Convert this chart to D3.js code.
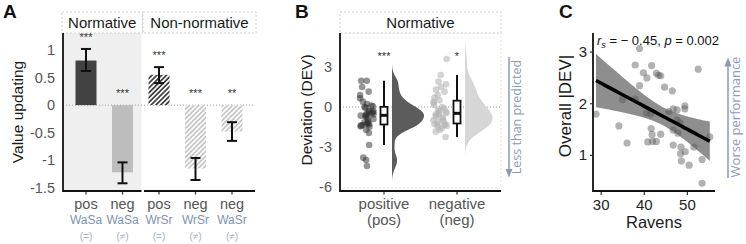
<!DOCTYPE html>
<html>
<head>
<meta charset="utf-8">
<script src="https://cdn.jsdelivr.net/npm/d3@7"></script>
<style>
body { margin: 0; background: #fff; }
svg { display: block; font-family: "Liberation Sans", Arial, sans-serif; }
</style>
</head>
<body>
<svg id="fig" width="746" height="244"></svg>
<script>
// ---- panel A data
var signA   = ["pos", "neg", "pos", "neg", "neg"];
var codeA   = ["WaSa", "WaSa", "WrSr", "WrSr", "WaSr"];
var eqA     = ["(=)", "(\u2260)", "(=)", "(\u2260)", "(\u2260)"];
var groupA  = ["Normative", "Normative", "Non-normative", "Non-normative", "Non-normative"];
var meanA   = [0.81, -1.22, 0.55, -1.15, -0.48];
var loA     = [0.62, -1.42, 0.40, -1.36, -0.65];
var hiA     = [1.02, -1.04, 0.69, -0.96, -0.31];
var starsA  = ["***", "***", "***", "***", "**"];
var ticksA  = [1, 0.5, 0, -0.5, -1, -1.5];

// ---- panel B data
var groupsB = ["positive", "negative"];
var shortB  = ["(pos)", "(neg)"];
var starsB  = ["***", "*"];
var devPos  = [1.97, 1.97, 1.5, 1.15, 0.9, 0.65, 0.4, 0.22, 0.1, 0.05,
               0.0, -0.05, -0.3, -0.3, -0.35, -0.4, -0.45, -0.5, -0.55, -0.6,
               -0.65, -0.7, -0.75, -0.85, -0.9, -1.1, -1.15, -1.2, -1.25, -1.3,
               -1.35, -1.4, -1.45, -1.5, -1.7, -1.95, -2.85, -3.8, -3.97, -4.43];
var devNeg  = [3.6, 2.4, 1.9, 1.7, 1.5, 1.3, 1.15, 0.9, 0.7, 0.5,
               0.4, 0.3, 0.15, 0.0, -0.1, -0.2, -0.3, -0.35, -0.45, -0.5,
               -0.55, -0.6, -0.7, -0.8, -0.9, -1.0, -1.05, -1.1, -1.28, -1.3,
               -1.3, -1.35, -1.4, -1.5, -1.6, -1.7, -1.85, -2.25];
var ticksB  = [3, 0, -3, -6];

// ---- panel C data
var ravens = [38.9, 37.9, 41.7, 39.8, 40.6, 42.8, 43.3, 43.8, 38.9, 44.7, 46.5, 52.5,
              34.9, 37.9, 28.8, 34.1, 36.0, 40.5, 41.5, 41.6, 41.8, 43.8, 40.8, 41.9,
              42.8, 45.7, 46.7, 47.6, 49.4, 49.4, 47.6, 48.3, 46.7, 46.7, 47.8, 48.5,
              49.5, 48.4, 48.6, 50.4, 51.5, 53.4, 53.4, 55.2];
var absDev = [3.07, 2.75, 2.74, 2.60, 2.50, 2.59, 2.55, 2.54, 2.35, 2.32, 2.25, 2.67,
              2.08, 2.09, 1.80, 1.57, 1.24, 1.82, 1.80, 1.52, 1.40, 1.41, 1.26, 1.27,
              1.27, 1.85, 1.90, 1.88, 1.96, 1.90, 1.68, 1.63, 1.49, 1.20, 1.43, 1.16,
              1.07, 1.03, 0.89, 0.81, 1.16, 0.92, 0.46, 1.36];
var ticksCx = [30, 40, 50];
var ticksCy = [1, 2, 3];

var svg = d3.select("#fig");
var axisCol = "#111", tickCol = "#555", noteCol = "#8a9bb6";

var defs = svg.append("defs");
[["hatchDark", "#3a3a3a"], ["hatchLight", "#c4c4c4"]].forEach(function(p) {
    var pat = defs.append("pattern").attr("id", p[0])
        .attr("patternUnits", "userSpaceOnUse").attr("width", 3.4).attr("height", 6)
        .attr("patternTransform", "rotate(45)");
    pat.append("rect").attr("width", 3.4).attr("height", 6).attr("fill", "#fff");
    pat.append("line").attr("x1", 0.9).attr("y1", 0).attr("x2", 0.9).attr("y2", 6)
        .attr("stroke", p[1]).attr("stroke-width", 1.7);
});
defs.append("marker").attr("id", "arr").attr("viewBox", "0 0 10 10")
    .attr("refX", 5).attr("refY", 5).attr("markerWidth", 6).attr("markerHeight", 8)
    .attr("orient", "auto-start-reverse")
    .append("path").attr("d", "M0,1 L10,5 L0,9 Z").attr("fill", noteCol);

function letter(t, x) {
    svg.append("text").attr("x", x).attr("y", 18).attr("font-size", 19)
        .attr("font-weight", "bold").attr("fill", "#111").text(t);
}
function strip(t, x0, x1) {
    svg.append("rect").attr("x", x0).attr("y", 12).attr("width", x1 - x0).attr("height", 21)
        .attr("fill", "#fff").attr("stroke", "#cfcfcf").attr("stroke-dasharray", "2,2");
    svg.append("text").attr("x", (x0 + x1) / 2).attr("y", 28).attr("text-anchor", "middle")
        .attr("font-size", 15).attr("fill", "#1a1a1a").text(t);
}
function ytitle(t, x, y, fs) {
    svg.append("text").attr("transform", "translate(" + x + "," + y + ") rotate(-90)")
        .attr("text-anchor", "middle").attr("font-size", fs).attr("fill", "#1a1a1a").text(t);
}

// =========== Panel A
letter("A", 3);
var xA = d3.scalePoint().domain(d3.range(meanA.length)).range([86, 232]);
var yA = d3.scaleLinear().domain([-1.56, 1.31]).range([191, 33]);
var panA = [["Normative", 63, 141.5], ["Non-normative", 144, 255]];

svg.append("rect").attr("x", 63).attr("y", 33).attr("width", 141.5 - 63).attr("height", 158)
    .attr("fill", "#efefef");
panA.forEach(function(p) { strip(p[0], p[1] - 1, p[2] + 1); });

svg.append("line").attr("x1", 63).attr("x2", 255).attr("y1", yA(0)).attr("y2", yA(0))
    .attr("stroke", "#9a9a9a").attr("stroke-dasharray", "1,2");

var bw = 21;
var idxA = d3.range(meanA.length);
svg.append("g").selectAll("rect").data(idxA).enter().append("rect")
    .attr("x", i => xA(i) - bw / 2).attr("width", bw)
    .attr("y", i => yA(Math.max(0, meanA[i])))
    .attr("height", i => Math.abs(yA(meanA[i]) - yA(0)))
    .attr("fill", function(i) {
        if (groupA[i] == "Normative") return signA[i] == "pos" ? "#424242" : "#bdbdbd";
        return signA[i] == "pos" ? "url(#hatchDark)" : "url(#hatchLight)";
    });

var eg = svg.append("g").attr("stroke", "#111").attr("stroke-width", 2);
idxA.forEach(function(i) {
    var x = xA(i);
    eg.append("line").attr("x1", x).attr("x2", x).attr("y1", yA(loA[i])).attr("y2", yA(hiA[i]));
    eg.append("line").attr("x1", x - 5).attr("x2", x + 5).attr("y1", yA(loA[i])).attr("y2", yA(loA[i]));
    eg.append("line").attr("x1", x - 5).attr("x2", x + 5).attr("y1", yA(hiA[i])).attr("y2", yA(hiA[i]));
});
svg.append("g").selectAll("text").data(idxA).enter().append("text")
    .attr("x", i => xA(i)).attr("y", i => yA(Math.max(0, hiA[i])) - 8)
    .attr("text-anchor", "middle").attr("font-size", 11).attr("fill", "#333")
    .text(i => starsA[i]);

// axes A
svg.append("line").attr("x1", 63).attr("x2", 63).attr("y1", 33).attr("y2", 192)
    .attr("stroke", axisCol).attr("stroke-width", 1.8);
panA.forEach(function(p) {
    svg.append("line").attr("x1", p[1]).attr("x2", p[2]).attr("y1", 191).attr("y2", 191)
        .attr("stroke", axisCol).attr("stroke-width", 1.8);
});
svg.append("g").selectAll("text").data(ticksA).enter().append("text")
    .attr("x", 55).attr("y", d => yA(d) + 5).attr("text-anchor", "end")
    .attr("font-size", 14.5).attr("fill", tickCol).text(d => d);
var xl = svg.append("g");
idxA.forEach(function(i) {
    var x = xA(i);
    xl.append("line").attr("x1", x).attr("x2", x).attr("y1", 192).attr("y2", 194.5)
        .attr("stroke", "#333").attr("stroke-width", 1.2);
    xl.append("text").attr("x", x).attr("y", 209).attr("text-anchor", "middle")
        .attr("font-size", 14.5).attr("fill", tickCol).text(signA[i]);
    xl.append("text").attr("x", x).attr("y", 224).attr("text-anchor", "middle")
        .attr("font-size", 12).attr("fill", "#7d93b2").text(codeA[i]);
    xl.append("text").attr("x", x).attr("y", 240).attr("text-anchor", "middle")
        .attr("font-size", 10).attr("fill", "#a3b2c8").text(eqA[i]);
});
ytitle("Value updating", 23, 112, 15.5);

// =========== Panel B
letter("B", 295);
var xB = d3.scalePoint().domain(groupsB).range([384, 457]);
var yB = d3.scaleLinear().domain([-6.3, 5.55]).range([191, 33]);
var dataB = [devPos, devNeg];

svg.append("rect").attr("x", 340).attr("y", 33).attr("width", 161).attr("height", 155)
    .attr("fill", "none").attr("stroke", "#e2e2e2").attr("stroke-dasharray", "2,2");
strip("Normative", 340, 501);
svg.append("line").attr("x1", 340).attr("x2", 501).attr("y1", yB(0)).attr("y2", yB(0))
    .attr("stroke", "#9a9a9a").attr("stroke-dasharray", "1,2");

function nrd0(v) {
    var s = d3.deviation(v), q = d3.quantile(v.slice().sort(d3.ascending), 0.75)
        - d3.quantile(v.slice().sort(d3.ascending), 0.25);
    return 0.9 * Math.min(s, q / 1.34) * Math.pow(v.length, -0.2);
}
function kde(v) {
    var h = nrd0(v), lo = d3.min(v) - 3 * h, hi = d3.max(v) + 3 * h;
    return d3.range(0, 121).map(function(k) {
        var t = lo + (hi - lo) * k / 120;
        var d = d3.mean(v, x => Math.exp(-0.5 * Math.pow((t - x) / h, 2))) / (h * Math.sqrt(2 * Math.PI));
        return [t, d];
    });
}
var dens = dataB.map(kde);
var wScale = d3.scaleLinear().domain([0, d3.max(dens[0], d => d[1])]).range([0, 32]);
var violinFill = ["#5c5c5c", "#d6d6d6"];
var dotFill = ["#2b2b2b", "#b5b5b5"], dotOp = [0.5, 0.6];
var rnd = d3.randomUniform.source(d3.randomLcg(0.37))(-7, 7);

groupsB.forEach(function(g, gi) {
    var cx = xB(g), vals = dataB[gi];
    var area = d3.area().y(d => yB(d[0])).x0(cx + 8).x1(d => cx + 8 + wScale(d[1]));
    svg.append("path").attr("d", area(dens[gi])).attr("fill", violinFill[gi]);

    svg.append("g").selectAll("circle").data(vals).enter().append("circle")
        .attr("cx", () => cx - 17 + rnd()).attr("cy", d => yB(d)).attr("r", 3.3)
        .attr("fill", dotFill[gi]).attr("fill-opacity", dotOp[gi]);

    var s = vals.slice().sort(d3.ascending);
    var q1 = d3.quantileSorted(s, 0.25), md = d3.quantileSorted(s, 0.5), q3 = d3.quantileSorted(s, 0.75);
    var iqr = q3 - q1;
    var wl = d3.min(s.filter(v => v >= q1 - 1.5 * iqr)), wh = d3.max(s.filter(v => v <= q3 + 1.5 * iqr));
    svg.append("line").attr("x1", cx).attr("x2", cx).attr("y1", yB(wh)).attr("y2", yB(wl))
        .attr("stroke", "#111").attr("stroke-width", 2);
    svg.append("rect").attr("x", cx - 3.5).attr("width", 7).attr("y", yB(q3)).attr("height", yB(q1) - yB(q3))
        .attr("fill", "#fff").attr("stroke", "#111").attr("stroke-width", 1.8);
    svg.append("line").attr("x1", cx - 3.5).attr("x2", cx + 3.5).attr("y1", yB(md)).attr("y2", yB(md))
        .attr("stroke", "#111").attr("stroke-width", 3);

    svg.append("text").attr("x", cx).attr("y", yB(d3.max(dataB.flat())) + 0.5)
        .attr("text-anchor", "middle").attr("font-size", 11).attr("fill", "#333").text(starsB[gi]);

    svg.append("line").attr("x1", cx).attr("x2", cx).attr("y1", 192).attr("y2", 194.5)
        .attr("stroke", "#333").attr("stroke-width", 1.2);
    svg.append("text").attr("x", cx).attr("y", 209).attr("text-anchor", "middle")
        .attr("font-size", 15).attr("fill", tickCol).text(g);
    svg.append("text").attr("x", cx).attr("y", 225).attr("text-anchor", "middle")
        .attr("font-size", 15).attr("fill", tickCol).text(shortB[gi]);
});

svg.append("line").attr("x1", 340).attr("x2", 340).attr("y1", 33).attr("y2", 192)
    .attr("stroke", axisCol).attr("stroke-width", 1.8);
svg.append("line").attr("x1", 340).attr("x2", 501).attr("y1", 191).attr("y2", 191)
    .attr("stroke", axisCol).attr("stroke-width", 1.8);
svg.append("g").selectAll("text").data(ticksB).enter().append("text")
    .attr("x", 332).attr("y", d => yB(d) + 5).attr("text-anchor", "end")
    .attr("font-size", 14.5).attr("fill", tickCol).text(d => d);
ytitle("Deviation (DEV)", 312, 110, 15.5);

svg.append("line").attr("x1", 509).attr("x2", 509).attr("y1", 57).attr("y2", 173)
    .attr("stroke", noteCol).attr("stroke-width", 1.5).attr("marker-end", "url(#arr)");
svg.append("text").attr("transform", "translate(521,117) rotate(-90)").attr("text-anchor", "middle")
    .attr("font-family", "'Open Sans', sans-serif").attr("font-size", 12.5).attr("fill", noteCol)
    .text("Less than predicted");

// =========== Panel C
letter("C", 559);
var xC = d3.scaleLinear().domain([28.1, 56.4]).range([593, 715]);
var yC = d3.scaleLinear().domain([0.31, 3.37]).range([191, 33]);

var n = ravens.length, mx = d3.mean(ravens), my = d3.mean(absDev);
var sxx = d3.sum(ravens, x => (x - mx) * (x - mx));
var sxy = d3.sum(ravens, (x, i) => (x - mx) * (absDev[i] - my));
var slope = sxy / sxx, icpt = my - slope * mx;
var sres = Math.sqrt(d3.sum(ravens, (x, i) => Math.pow(absDev[i] - icpt - slope * x, 2)) / (n - 2));
var tcrit = 2.018;
var xs = d3.range(0, 81).map(k => d3.min(ravens) + (d3.max(ravens) - d3.min(ravens)) * k / 80);
var band = xs.map(function(x) {
    var f = icpt + slope * x, se = sres * Math.sqrt(1 / n + (x - mx) * (x - mx) / sxx);
    return { x: x, lo: f - tcrit * se, hi: f + tcrit * se, f: f };
});

svg.append("path").datum(band)
    .attr("d", d3.area().x(d => xC(d.x)).y0(d => yC(d.lo)).y1(d => yC(d.hi)))
    .attr("fill", "#8e8e8e");
svg.append("g").selectAll("circle").data(ravens).enter().append("circle")
    .attr("cx", d => xC(d)).attr("cy", (d, i) => yC(absDev[i])).attr("r", 3.6)
    .attr("fill", "#555").attr("fill-opacity", 0.45);
svg.append("path").datum(band)
    .attr("d", d3.line().x(d => xC(d.x)).y(d => yC(d.f)))
    .attr("fill", "none").attr("stroke", "#000").attr("stroke-width", 3.5);

svg.append("line").attr("x1", 593).attr("x2", 593).attr("y1", 33).attr("y2", 192)
    .attr("stroke", axisCol).attr("stroke-width", 1.8);
svg.append("line").attr("x1", 593).attr("x2", 715).attr("y1", 191).attr("y2", 191)
    .attr("stroke", axisCol).attr("stroke-width", 1.8);
var axC = svg.append("g");
ticksCx.forEach(function(t) {
    axC.append("line").attr("x1", xC(t)).attr("x2", xC(t)).attr("y1", 192).attr("y2", 195)
        .attr("stroke", "#333").attr("stroke-width", 1.2);
    axC.append("text").attr("x", xC(t)).attr("y", 210).attr("text-anchor", "middle")
        .attr("font-size", 15).attr("fill", "#222").text(t);
});
ticksCy.forEach(function(t) {
    axC.append("line").attr("x1", 590).attr("x2", 593).attr("y1", yC(t)).attr("y2", yC(t))
        .attr("stroke", "#333").attr("stroke-width", 1.2);
    axC.append("text").attr("x", 587).attr("y", yC(t) + 5).attr("text-anchor", "end")
        .attr("font-size", 15).attr("fill", "#222").text(t);
});
svg.append("text").attr("x", 654).attr("y", 228).attr("text-anchor", "middle")
    .attr("font-size", 16.5).attr("fill", "#1a1a1a").text("Ravens");
ytitle("Overall |DEV|", 571, 106, 17);

var note = svg.append("text").attr("x", 597).attr("y", 45).attr("font-size", 13).attr("fill", "#111");
note.append("tspan").attr("font-style", "italic").text("r");
note.append("tspan").attr("font-style", "italic").attr("font-size", 9).attr("dy", 3).text("s");
note.append("tspan").attr("dy", -3).text(" = \u2212 0.45, ");
note.append("tspan").attr("font-style", "italic").text("p");
note.append("tspan").text(" = 0.002");

svg.append("line").attr("x1", 728).attr("x2", 728).attr("y1", 178).attr("y2", 62)
    .attr("stroke", noteCol).attr("stroke-width", 1.5).attr("marker-end", "url(#arr)");
svg.append("text").attr("transform", "translate(740,117) rotate(-90)").attr("text-anchor", "middle")
    .attr("font-family", "'Open Sans', sans-serif").attr("font-size", 13).attr("fill", noteCol)
    .text("Worse performance");
</script>
</body>
</html>
